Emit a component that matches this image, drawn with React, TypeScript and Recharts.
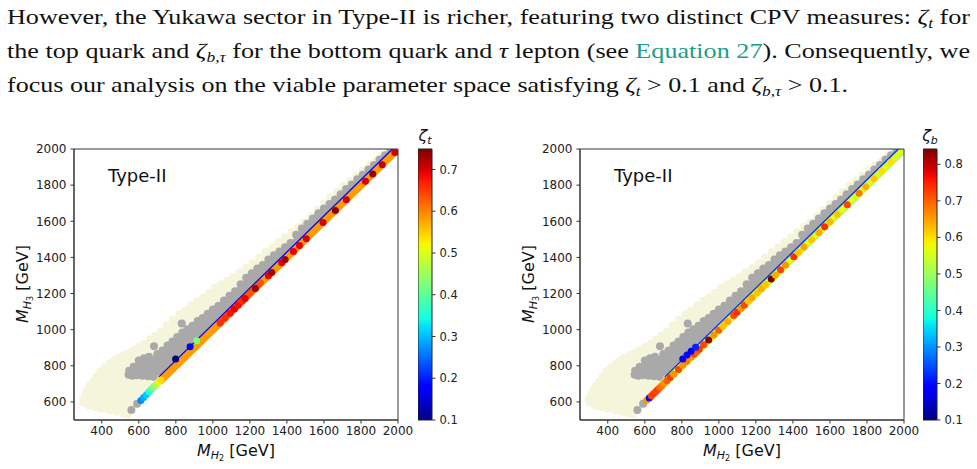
import React from 'react';
import { ComposedChart, Area, Line, Scatter, XAxis, YAxis, ReferenceArea } from 'recharts';

const SANS = "'DejaVu Sans', Verdana, sans-serif";
const SERIF = "'Liberation Serif', 'Times New Roman', serif";
const INK = '#222';
const BEIGE = '#f5f5dc';
const GRAY = '#a9a9a9';

// axes
const X_TICKS = [400, 600, 800, 1000, 1200, 1400, 1600, 1800, 2000];
const Y_TICKS = [600, 800, 1000, 1200, 1400, 1600, 1800, 2000];
const CB_T_TICKS = [0.1, 0.2, 0.3, 0.4, 0.5, 0.6, 0.7];
const CB_B_TICKS = [0.1, 0.2, 0.3, 0.4, 0.5, 0.6, 0.7, 0.8];
const CB_T_MAX = 0.749;
const CB_B_MAX = 0.842;

// background clouds (same scan in both panels): lower / upper envelope at knots
const KNOT_X = [290, 300, 330, 360, 390, 420, 460, 500, 540, 570, 600, 650, 700, 750, 800, 850, 900, 950, 1000, 1100, 1200, 1300, 1400, 1500, 1600, 1700, 1800, 1900, 2000];
const BEIGE_LO = [605, 600, 590, 583, 576, 570, 562, 552, 545, 555, 600, 645, 695, 745, 795, 845, 895, 945, 995, 1095, 1195, 1295, 1395, 1495, 1595, 1695, 1795, 1895, 1995];
const BEIGE_HI = [612, 625, 680, 720, 765, 795, 825, 850, 870, 885, 905, 935, 975, 1025, 1070, 1108, 1145, 1178, 1220, 1285, 1358, 1440, 1522, 1600, 1700, 1792, 1875, 1950, 2040];
const GRAY_LO = [null, null, null, null, null, null, null, null, 755, 750, 748, 746, 744, 760, 805, 855, 905, 955, 1005, 1105, 1205, 1305, 1405, 1505, 1605, 1705, 1805, 1905, 2005];
const GRAY_HI = [null, null, null, null, null, null, null, null, 770, 790, 815, 840, 865, 910, 950, 985, 1025, 1062, 1108, 1200, 1305, 1385, 1465, 1572, 1662, 1750, 1845, 1932, 2025];

// scalloped edge points of the clouds
const BEIGE_DOT_X = [297, 310, 322, 336, 352, 372, 392, 415, 440, 465, 492, 520, 548, 575, 602, 630, 660, 690, 720, 752, 785, 818, 850, 882, 915, 948, 980, 1012, 1045, 1078, 1110, 1145, 1180, 1215, 1250, 1285, 1320, 1355, 1390, 1425, 1460, 1495, 1530, 1565, 1600, 1635, 1670, 1705, 1740, 1775, 1810, 1845, 1880, 1915, 1950, 1985, 300, 330, 365, 400, 440, 480, 515, 540];
const BEIGE_DOT_Y = [612, 640, 668, 690, 712, 742, 770, 790, 812, 830, 845, 860, 872, 888, 905, 920, 945, 968, 990, 1025, 1055, 1085, 1108, 1135, 1158, 1180, 1205, 1232, 1250, 1272, 1292, 1318, 1342, 1368, 1400, 1430, 1455, 1485, 1512, 1540, 1568, 1596, 1628, 1662, 1698, 1732, 1764, 1796, 1822, 1852, 1882, 1910, 1935, 1965, 1995, 2025, 598, 580, 572, 562, 553, 546, 536, 530];
const GRAY_DOT_X = [545, 565, 590, 620, 650, 680, 548, 572, 600, 628, 655, 700, 728, 755, 782, 808, 835, 862, 890, 918, 945, 972, 1000, 1030, 1060, 1090, 1120, 1150, 1180, 1210, 1240, 1270, 1300, 1330, 1360, 1390, 1420, 1450, 1480, 1510, 1540, 1570, 1600, 1630, 1660, 1690, 1720, 1750, 1780, 1810, 1840, 1870, 1900, 1930, 1960, 1990, 560, 591, 682, 832];
const GRAY_DOT_Y = [750, 745, 748, 745, 742, 740, 772, 795, 830, 842, 850, 865, 885, 912, 935, 960, 985, 1002, 1022, 1048, 1065, 1088, 1112, 1132, 1162, 1188, 1212, 1252, 1288, 1312, 1338, 1358, 1388, 1412, 1432, 1456, 1480, 1526, 1560, 1586, 1616, 1645, 1670, 1695, 1720, 1750, 1778, 1803, 1833, 1858, 1887, 1912, 1942, 1966, 1995, 2025, 555, 590, 908, 1034];

// dense diagonal strip (M_H3 ~ M_H2) and thin low-zeta edge above it
const BAND_X = [720, 2000];
const BAND_Y = [720, 2000];
const HOT_X = [1040, 1260];
const HOT_Y = [1040, 1260];
const R_BAND_X = [700, 2000];
const R_BAND_Y = [700, 2000];
const EDGE_X = [710, 2000];
const EDGE_Y = [740, 2030];

// left panel: zeta_t
const LEFT_DOT_X = [611, 626, 641, 655, 668, 681, 694, 707, 720, 799, 877, 913, 1039, 1066, 1093, 1116, 1138, 1160, 1174, 1230, 1300, 1318, 1372, 1390, 1435, 1468, 1505, 1595, 1662, 1721, 1824, 1864, 1915, 1983];
const LEFT_DOT_Y = [608, 624, 640, 656, 670, 684, 697, 710, 722, 838, 905, 938, 1037, 1064, 1091, 1114, 1136, 1158, 1172, 1228, 1298, 1316, 1370, 1388, 1433, 1466, 1503, 1593, 1660, 1719, 1822, 1862, 1913, 1980];
const LEFT_DOT_Z = [0.27, 0.29, 0.31, 0.35, 0.4, 0.43, 0.47, 0.5, 0.54, 0.1, 0.18, 0.42, 0.66, 0.66, 0.68, 0.69, 0.68, 0.66, 0.69, 0.73, 0.69, 0.73, 0.69, 0.73, 0.69, 0.69, 0.7, 0.7, 0.74, 0.7, 0.7, 0.74, 0.71, 0.7];

// right panel: zeta_b
const RIGHT_DOT_X = [611, 624, 636, 647, 658, 669, 680, 692, 705, 720, 737, 755, 782, 805, 827, 850, 867, 880, 894, 918, 945, 972, 999, 1022, 1047, 1080, 1098, 1120, 1138, 1160, 1180, 1207, 1230, 1252, 1283, 1305, 1333, 1360, 1405, 1430, 1460, 1500, 1540, 1571, 1600, 1640, 1694, 1757, 1793, 1838, 1880, 1928, 805, 828, 850, 874];
const RIGHT_DOT_Y = [609, 622, 634, 645, 656, 667, 678, 690, 703, 718, 735, 753, 780, 803, 825, 848, 865, 878, 892, 916, 943, 970, 997, 1020, 1045, 1078, 1096, 1118, 1136, 1158, 1178, 1205, 1228, 1250, 1281, 1303, 1331, 1358, 1403, 1428, 1458, 1498, 1538, 1569, 1598, 1638, 1692, 1755, 1791, 1836, 1878, 1926, 838, 860, 881, 903];
const RIGHT_DOT_Z = [0.66, 0.2, 0.72, 0.73, 0.72, 0.73, 0.7, 0.68, 0.66, 0.7, 0.73, 0.66, 0.72, 0.66, 0.68, 0.66, 0.72, 0.7, 0.73, 0.72, 0.83, 0.66, 0.7, 0.62, 0.64, 0.72, 0.74, 0.66, 0.72, 0.62, 0.64, 0.62, 0.64, 0.62, 0.84, 0.64, 0.72, 0.66, 0.74, 0.62, 0.65, 0.62, 0.64, 0.74, 0.63, 0.62, 0.72, 0.68, 0.64, 0.62, 0.6, 0.6, 0.18, 0.2, 0.18, 0.22];

// matplotlib jet
const JET_R = [[0, 0], [0.35, 0], [0.66, 1], [0.89, 1], [1, 0.5]];
const JET_G = [[0, 0], [0.125, 0], [0.375, 1], [0.64, 1], [0.91, 0], [1, 0]];
const JET_B = [[0, 0.5], [0.11, 1], [0.34, 1], [0.65, 0], [1, 0]];

const seg = (stops: number[][], t: number) => {
  for (let i = 1; i < stops.length; i++) {
    if (t <= stops[i][0]) {
      const [t0, v0] = stops[i - 1];
      const [t1, v1] = stops[i];
      return v0 + ((t - t0) / (t1 - t0)) * (v1 - v0);
    }
  }
  return stops[stops.length - 1][1];
};

const jet = (t: number) => {
  const c = Math.min(1, Math.max(0, t));
  const h = (v: number) => Math.round(v * 255).toString(16).padStart(2, '0');
  return '#' + h(seg(JET_R, c)) + h(seg(JET_G, c)) + h(seg(JET_B, c));
};

const zColor = (z: number, vmax: number) => jet((z - 0.1) / (vmax - 0.1));

const CLOUD_ROWS = KNOT_X.map((x, i) => ({
  x,
  beige: [BEIGE_LO[i], BEIGE_HI[i]],
  gray: GRAY_LO[i] == null ? null : [GRAY_LO[i], GRAY_HI[i]],
}));

const plain = (xs: number[], ys: number[], fill: string) => xs.map((x, i) => ({ x, y: ys[i], fill }));
const colored = (xs: number[], ys: number[], zs: number[], vmax: number) =>
  xs.map((x, i) => ({ x, y: ys[i], fill: zColor(zs[i], vmax) }));
const line = (xs: number[], ys: number[]) => xs.map((x, i) => ({ x, y: ys[i] }));

const BEIGE_DOTS = plain(BEIGE_DOT_X, BEIGE_DOT_Y, BEIGE);
const GRAY_DOTS = plain(GRAY_DOT_X, GRAY_DOT_Y, GRAY);

const dotShape = (r: number) => (p: any) => (
  <circle cx={p.cx} cy={p.cy} r={r} fill={p.payload?.fill ?? p.fill} />
);

const tickStyle = { fill: INK, fontSize: 12, fontFamily: SANS };

interface Band {
  data: { x: number; y: number }[];
  color: string;
  width: number;
}

function MassPanel({ dots, bands }: { dots: any[]; bands: Band[] }) {
  return (
    <ComposedChart width={430} height={339} data={CLOUD_ROWS} margin={{ top: 19, right: 32, left: 14, bottom: 19 }}>
      <XAxis
        dataKey="x"
        type="number"
        domain={[250, 2000]}
        ticks={X_TICKS}
        interval={0}
        allowDataOverflow
        height={30}
        tickSize={3.5}
        tickMargin={3}
        tick={tickStyle}
        tickLine={{ stroke: '#333' }}
        axisLine={{ stroke: '#333' }}
      />
      <YAxis
        type="number"
        domain={[500, 2000]}
        ticks={Y_TICKS}
        interval={0}
        allowDataOverflow
        width={60}
        tickSize={3.5}
        tickMargin={4}
        tick={tickStyle}
        tickLine={{ stroke: '#333' }}
        axisLine={{ stroke: '#333' }}
      />
      <Area type="linear" dataKey="beige" stroke="none" fill={BEIGE} fillOpacity={1} isAnimationActive={false} zIndex={101} />
      <Scatter data={BEIGE_DOTS} dataKey="y" fill={BEIGE} shape={dotShape(4)} isAnimationActive={false} zIndex={102} />
      <Area type="linear" dataKey="gray" stroke="none" fill={GRAY} fillOpacity={1} isAnimationActive={false} zIndex={103} />
      <Scatter data={GRAY_DOTS} dataKey="y" fill={GRAY} shape={dotShape(4)} isAnimationActive={false} zIndex={104} />
      {bands.map((b, i) => (
        <Line
          key={i}
          data={b.data}
          dataKey="y"
          type="linear"
          stroke={b.color}
          strokeWidth={b.width}
          strokeLinecap="round"
          dot={false}
          activeDot={false}
          isAnimationActive={false}
          zIndex={105 + i}
        />
      ))}
      <Scatter data={dots} dataKey="y" shape={dotShape(3.5)} isAnimationActive={false} zIndex={120} />
      <ReferenceArea x1={250} x2={2000} y1={500} y2={2000} fill="none" stroke="#333" strokeWidth={1} ifOverflow="visible" zIndex={1500} />
    </ComposedChart>
  );
}

function ColorBar({ vmax, ticks }: { vmax: number; ticks: number[] }) {
  return (
    <ComposedChart width={64} height={291} data={[{ x: 0 }, { x: 1 }]} margin={{ top: 10, right: 0, left: 0, bottom: 10 }}>
      <XAxis dataKey="x" type="number" domain={[0, 1]} hide />
      <YAxis
        type="number"
        orientation="right"
        domain={[0.1, vmax]}
        ticks={ticks}
        interval={0}
        allowDataOverflow
        width={50}
        tickSize={3.5}
        tickMargin={4}
        tickFormatter={(v: number) => v.toFixed(1)}
        tick={{ fill: INK, fontSize: 11.5, fontFamily: SANS }}
        tickLine={{ stroke: '#333' }}
        axisLine={false}
      />
      <ReferenceArea x1={0} x2={1} y1={0.1} y2={vmax} fill="url(#jetGrad)" fillOpacity={1} stroke="#222" strokeWidth={1} ifOverflow="visible" />
    </ComposedChart>
  );
}

const GRAD_STOPS = Array.from({ length: 41 }, (_, i) => i / 40);

function Overlay() {
  return (
    <svg width={977} height={469} style={{ position: 'absolute', left: 0, top: 0, pointerEvents: 'none' }}>
      <g style={{ fontFamily: SERIF }} fontSize={21} fill="#111">
        <text x={7} y={24} textLength={963} lengthAdjust="spacingAndGlyphs">
          {'However, the Yukawa sector in Type-II is richer, featuring two distinct CPV measures: '}
          <tspan fontStyle="italic">ζ</tspan>
          <tspan fontStyle="italic" fontSize={14} dy={4}>t</tspan>
          <tspan dy={-4}>{' for'}</tspan>
        </text>
        <text x={7} y={58} textLength={963} lengthAdjust="spacingAndGlyphs">
          {'the top quark and '}
          <tspan fontStyle="italic">ζ</tspan>
          <tspan fontStyle="italic" fontSize={14} dy={4}>{'b,τ'}</tspan>
          <tspan dy={-4}>{' for the bottom quark and '}</tspan>
          <tspan fontStyle="italic">τ</tspan>
          {' lepton (see '}
          <tspan fill="#1a9e8a">Equation 27</tspan>
          {'). Consequently, we'}
        </text>
        <text x={7} y={92} textLength={841} lengthAdjust="spacingAndGlyphs">
          {'focus our analysis on the viable parameter space satisfying '}
          <tspan fontStyle="italic">ζ</tspan>
          <tspan fontStyle="italic" fontSize={14} dy={4}>t</tspan>
          <tspan dy={-4}>{' > 0.1 and '}</tspan>
          <tspan fontStyle="italic">ζ</tspan>
          <tspan fontStyle="italic" fontSize={14} dy={4}>{'b,τ'}</tspan>
          <tspan dy={-4}>{' > 0.1.'}</tspan>
        </text>
      </g>
      <g style={{ fontFamily: SANS }} fill="#111">
        {[0, 506].map((dx) => (
          <g key={dx}>
            <text x={108 + dx} y={182} fontSize={18}>Type-II</text>
            <text x={236 + dx} y={456} fontSize={16} textAnchor="middle">
              <tspan fontStyle="italic">M</tspan>
              <tspan fontStyle="italic" fontSize={11} dy={3}>H</tspan>
              <tspan fontSize={8} dy={2}>2</tspan>
              <tspan dy={-5}>{' [GeV]'}</tspan>
            </text>
            <text transform={`translate(${28 + dx}, 284) rotate(-90)`} fontSize={16} textAnchor="middle">
              <tspan fontStyle="italic">M</tspan>
              <tspan fontStyle="italic" fontSize={11} dy={3}>H</tspan>
              <tspan fontSize={8} dy={2}>3</tspan>
              <tspan dy={-5}>{' [GeV]'}</tspan>
            </text>
          </g>
        ))}
        <text x={425} y={141} fontSize={16} textAnchor="middle">
          <tspan fontStyle="italic">ζ</tspan>
          <tspan fontStyle="italic" fontSize={11} dy={3}>t</tspan>
        </text>
        <text x={930} y={141} fontSize={16} textAnchor="middle">
          <tspan fontStyle="italic">ζ</tspan>
          <tspan fontStyle="italic" fontSize={11} dy={3}>b</tspan>
        </text>
      </g>
    </svg>
  );
}

export default function App() {
  const leftDots = colored(LEFT_DOT_X, LEFT_DOT_Y, LEFT_DOT_Z, CB_T_MAX);
  const rightDots = colored(RIGHT_DOT_X, RIGHT_DOT_Y, RIGHT_DOT_Z, CB_B_MAX);

  const leftBands: Band[] = [
    { data: line(BAND_X, BAND_Y), color: zColor(0.585, CB_T_MAX), width: 7.5 },
    { data: line(HOT_X, HOT_Y), color: zColor(0.635, CB_T_MAX), width: 6 },
    { data: line(EDGE_X, EDGE_Y), color: zColor(0.17, CB_T_MAX), width: 1.3 },
  ];
  const rightBands: Band[] = [
    { data: line(R_BAND_X, R_BAND_Y), color: zColor(0.52, CB_B_MAX), width: 8 },
    { data: line(R_BAND_X, R_BAND_Y), color: zColor(0.57, CB_B_MAX), width: 4 },
    { data: line(EDGE_X, EDGE_Y), color: zColor(0.22, CB_B_MAX), width: 1.3 },
  ];

  return (
    <div style={{ position: 'relative', width: 977, height: 469, background: '#fff', overflow: 'hidden' }}>
      <style>{'body{margin:0}'}</style>
      <svg width={0} height={0} style={{ position: 'absolute' }}>
        <defs>
          <linearGradient id="jetGrad" x1="0" y1="1" x2="0" y2="0">
            {GRAD_STOPS.map((t) => (
              <stop key={t} offset={t} stopColor={jet(t)} />
            ))}
          </linearGradient>
        </defs>
      </svg>
      <div style={{ position: 'absolute', left: 0, top: 130 }}>
        <MassPanel dots={leftDots} bands={leftBands} />
      </div>
      <div style={{ position: 'absolute', left: 506, top: 130 }}>
        <MassPanel dots={rightDots} bands={rightBands} />
      </div>
      <div style={{ position: 'absolute', left: 418, top: 139 }}>
        <ColorBar vmax={CB_T_MAX} ticks={CB_T_TICKS} />
      </div>
      <div style={{ position: 'absolute', left: 923, top: 139 }}>
        <ColorBar vmax={CB_B_MAX} ticks={CB_B_TICKS} />
      </div>
      <Overlay />
    </div>
  );
}
